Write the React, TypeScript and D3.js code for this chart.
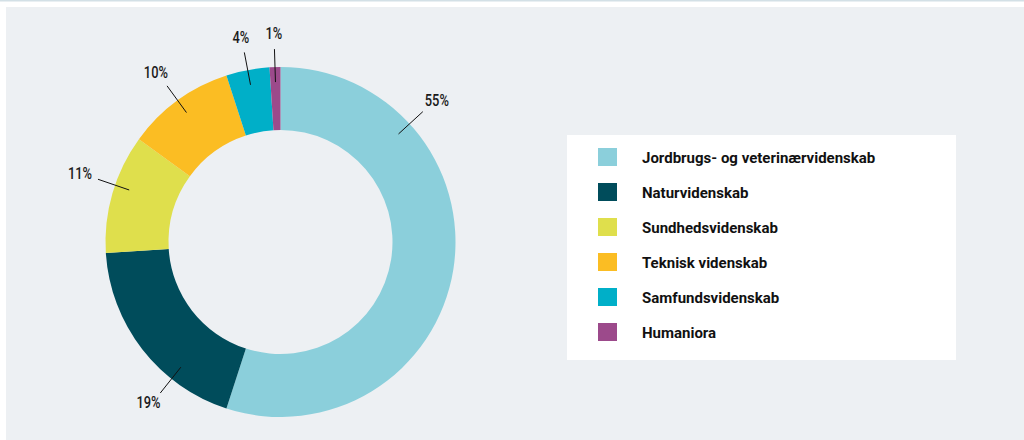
import React from "react";
import * as d3 from "d3";

const categories = [
  "Jordbrugs- og veterinærvidenskab",
  "Naturvidenskab",
  "Sundhedsvidenskab",
  "Teknisk videnskab",
  "Samfundsvidenskab",
  "Humaniora",
];
const values = [55, 19, 11, 10, 4, 1];
const colors = ["#8bcfdb", "#004c5b", "#dfdf4c", "#fbbd23", "#00afc8", "#9c4a8b"];
// where along each slice the leader line sits (fraction of the slice)
const leaderPos = [0.24, 0.3, 0.57, 0.5, 0.5, 0.5];

const W = 1024;
const H = 440;
const cx = 280.5;
const cy = 242;
const rOuter = 175;
const rInner = 112;

export default function App() {
  const pie = d3
    .pie<number>()
    .sort(null)
    .value((d) => d)
    .startAngle(0)
    .endAngle(2 * Math.PI);
  const arcs = pie(values);
  const arc = d3.arc<d3.PieArcDatum<number>>().innerRadius(rInner).outerRadius(rOuter);
  const pt = (a: number, r: number) => [cx + r * Math.sin(a), cy - r * Math.cos(a)];

  const legendX = 567;
  const legendY = 135;
  const rowY = d3
    .scaleBand<number>()
    .domain(d3.range(categories.length))
    .range([148, 148 + 35 * 6])
    .paddingInner(0);

  return (
    <svg
      width={W}
      height={H}
      style={{ position: "absolute", left: 0, top: 0, background: "#ffffff" }}
    >
      <rect x={0} y={0} width={W} height={1.5} fill="#d3e0e6" />
      <rect x={6} y={7} width={W - 6} height={H - 7} fill="#edf0f3" />
      <g>
        {arcs.map((d, i) => (
          <path key={i} d={arc(d) || ""} transform={`translate(${cx},${cy})`} fill={colors[i]} />
        ))}
      </g>
      <g>
        {arcs.map((d, i) => {
          const a = d.startAngle + (d.endAngle - d.startAngle) * leaderPos[i];
          const [x1, y1] = pt(a, 160);
          const [x2, y2] = pt(a, 193);
          const lx = x2 + 19 * Math.sin(a);
          const ly = y2 - 14 * Math.cos(a) - 2;
          return (
            <g key={i}>
              <line x1={x1} y1={y1} x2={x2} y2={y2} stroke="#111" strokeWidth={1} />
              <text
                transform={`translate(${lx},${ly}) scale(0.78,1)`}
                dy="0.36em"
                textAnchor="middle"
                fontFamily="Roboto, 'Liberation Sans', sans-serif"
                fontWeight={500}
                fontSize={16.5}
                fill="#1a1a1a"
              >
                {`${values[i]}%`}
              </text>
            </g>
          );
        })}
      </g>
      <rect x={legendX} y={legendY} width={956 - legendX} height={360 - legendY} fill="#ffffff" />
      <g>
        {categories.map((c, i) => (
          <g key={c}>
            <rect x={598} y={rowY(i)!} width={19} height={18} fill={colors[i]} />
            <text
              x={642}
              y={rowY(i)! + 15}
              fontFamily="Roboto, 'Liberation Sans', sans-serif"
              fontWeight={700}
              fontSize={15}
              fill="#111"
            >
              {c}
            </text>
          </g>
        ))}
      </g>
    </svg>
  );
}
